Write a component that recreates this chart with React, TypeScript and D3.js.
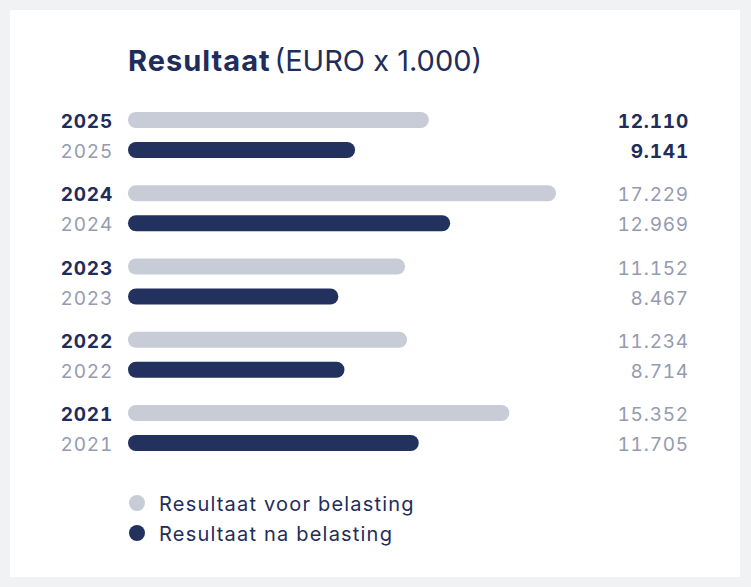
import React from "react";
import * as d3 from "d3";

const years = ["2025", "2024", "2023", "2022", "2021"];
const voorBelasting = [12110, 17229, 11152, 11234, 15352];
const naBelasting = [9141, 12969, 8467, 8714, 11705];
const highlightYear = "2025";
const legendLabels = ["Resultaat voor belasting", "Resultaat na belasting"];

const W = 751;
const H = 587;
const navy = "#1f2d5a";
const barNavy = "#22315e";
const barGray = "#c8ccd6";
const textGray = "#959bb0";
const font = "Inter, Lato, sans-serif";

const fmt = (v: number) => d3.format(",")(v).replace(/,/g, ".");

export default function App() {
  const x0 = 128;
  const x = d3.scaleLinear().domain([0, 17229]).range([0, 428]);
  const y = d3.scalePoint<string>().domain(years).range([120, 413]);
  const barH = 16;
  const gap = 30;
  const valueX = 689;
  const yearX = 113;
  const nums = { fontVariantNumeric: "tabular-nums" };

  return (
    <svg
      width={W}
      height={H}
      style={{ position: "absolute", left: 0, top: 0, fontFamily: font }}
    >
      <rect width={W} height={H} fill="#f1f2f4" />
      <rect x={10} y={10} width={730} height={567} fill="#fff" />

      <text x={x0} y={71} fill={navy} fontSize={29}>
        <tspan fontWeight={700} letterSpacing={1}>
          Resultaat
        </tspan>
        <tspan dx={4} fontWeight={400}>
          (EURO x 1.000)
        </tspan>
      </text>

      {years.map((yr, i) => {
        const cy = y(yr)!;
        const hl = yr === highlightYear;
        const rows = [
          { v: voorBelasting[i], cy, fill: barGray, bold: true },
          { v: naBelasting[i], cy: cy + gap, fill: barNavy, bold: false },
        ];
        return (
          <g key={yr}>
            {rows.map((r, j) => (
              <g key={j}>
                <text
                  x={yearX}
                  y={r.cy + 8}
                  textAnchor="end"
                  fontSize={19}
                  letterSpacing={0.8}
                  style={nums}
                  fontWeight={r.bold ? 700 : 400}
                  fill={r.bold ? navy : textGray}
                >
                  {yr}
                </text>
                <rect
                  x={x0}
                  y={r.cy - barH / 2}
                  width={x(r.v)}
                  height={barH}
                  rx={barH / 2}
                  fill={r.fill}
                />
                <text
                  x={valueX}
                  y={r.cy + 8}
                  textAnchor="end"
                  fontSize={19}
                  letterSpacing={0.8}
                  style={nums}
                  fontWeight={hl ? 700 : 400}
                  fill={hl ? navy : textGray}
                >
                  {fmt(r.v)}
                </text>
              </g>
            ))}
          </g>
        );
      })}

      {legendLabels.map((lab, i) => (
        <g key={lab} transform={`translate(137, ${503 + i * 30})`}>
          <circle r={8} fill={i === 0 ? barGray : barNavy} />
          <text x={22} y={8} fontSize={20} letterSpacing={1.2} fill={navy}>
            {lab}
          </text>
        </g>
      ))}
    </svg>
  );
}
